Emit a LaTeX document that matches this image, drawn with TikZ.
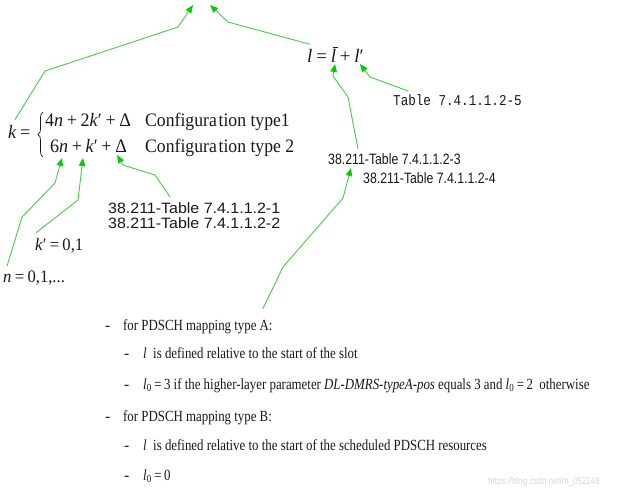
\documentclass[tikz,border=0pt]{standalone}
\usepackage{fontspec}
\setmainfont{Liberation Serif}
\newfontfamily\arialf{Liberation Sans}
\newfontfamily\monof{Liberation Mono}
\usepackage{graphicx}
\usetikzlibrary{arrows.meta,decorations.pathreplacing}
\newcommand\hsq[2]{\scalebox{#1}[1]{#2}}
\newcommand\fx{\fontsize{19}{19}\selectfont}
\newcommand\fb{\fontsize{15.5}{15.5}\selectfont}
\newcommand\gp{\kern0.2em}
\newcommand\lbar{\makebox[0pt][l]{\kern0.12em\raisebox{0.72em}{\rule{0.28em}{0.045em}}}\textit{l}}
\definecolor{grn}{RGB}{70,205,70}
\definecolor{grnh}{RGB}{10,200,10}
\definecolor{ink}{RGB}{25,25,25}
\definecolor{wm}{RGB}{215,215,215}
\tikzset{
  conn/.style={draw=grn, line width=0.9pt, line join=round,
    -{Triangle[length=8pt,width=6.5pt,fill=grnh,color=grnh]}},
  lbl/.style={inner sep=0pt, anchor=base west, text=ink},
  bracestyle/.style={draw=ink, line width=0.7pt,
    decorate, decoration={brace, amplitude=5pt}},
}
\begin{document}
\begin{tikzpicture}[x=1pt,y=-1pt]
\fill[white] (0,0) rectangle (641,493);
\useasboundingbox (0,0) rectangle (641,493);

% ---- k formula
\node[lbl] (kk) at (8,138) {\fx\hsq{0.95}{\textit{k}\gp=}};
\coordinate (brb) at (43,157);
\coordinate (brt) at (43,112);
\draw[bracestyle] (brb) -- (brt);
\node[lbl] (r1a) at (45,126) {\fx\hsq{0.95}{4\textit{n}\gp+\gp2\textit{k}′\gp+\gp Δ}};
\node[lbl] (r2a) at (50,152) {\fx\hsq{0.95}{6\textit{n}\gp+\gp\textit{k}′\gp+\gp Δ}};
\node[lbl] (r1b) at (145,126) {\fx\hsq{0.93}{Configura\kern0.1em tion type1}};
\node[lbl] (r2b) at (145,152) {\fx\hsq{0.93}{Configura\kern0.1em tion type 2}};

% ---- l formula
\node[lbl] (lf) at (307,62) {\fx\hsq{1.0}{\textit{l}\gp=\gp\lbar\gp+\gp\textit{l}′}};

% ---- references
\node[lbl] (t5) at (393,105) {\fontsize{15}{15}\monof\hsq{0.84}{Table 7.4.1.1.2-5}};
\node[lbl] (t3) at (328,164) {\fontsize{15}{15}\arialf\hsq{0.82}{38.211-Table 7.4.1.1.2-3}};
\node[lbl] (t4) at (363,183) {\fontsize{15}{15}\arialf\hsq{0.82}{38.211-Table 7.4.1.1.2-4}};
\node[lbl] (t12a) at (108,213) {\fontsize{15}{15}\arialf\hsq{1.065}{38.211-Table 7.4.1.1.2-1}};
\node[lbl] (t12b) at (108,228) {\fontsize{15}{15}\arialf\hsq{1.065}{38.211-Table 7.4.1.1.2-2}};
\node[lbl] (kp) at (35,250) {\fontsize{17.5}{17.5}\selectfont\hsq{0.95}{\textit{k}′\gp=\gp0,1}};
\node[lbl] (nl) at (3,282) {\fontsize{17.5}{17.5}\selectfont\hsq{0.95}{\textit{n}\gp=\gp0,1,...}};

% ---- bullet list
\node[lbl] (d1) at (105,330) {\fb -};
\node[lbl] (L1) at (123,330) {\fb\hsq{0.83}{for PDSCH mapping type A:}};
\node[lbl] (d2) at (124,358) {\fb -};
\node[lbl] (L2) at (143,358) {\fb\hsq{0.83}{\textit{l}\ \ is defined relative to the start of the slot}};
\node[lbl] (d3) at (124,389) {\fb -};
\node[lbl] (L3) at (143,389) {\fb\hsq{0.83}{\textit{l}\textsubscript{0}\gp=\gp3 if the higher-layer parameter \textit{DL-DMRS-typeA-pos} equals 3 and \textit{l}\textsubscript{0}\gp=\gp2\ \ otherwise}};
\node[lbl] (d4) at (105,421) {\fb -};
\node[lbl] (L4) at (123,421) {\fb\hsq{0.83}{for PDSCH mapping type B:}};
\node[lbl] (d5) at (124,450) {\fb -};
\node[lbl] (L5) at (143,450) {\fb\hsq{0.83}{\textit{l}\ \ is defined relative to the start of the scheduled PDSCH resources}};
\node[lbl] (d6) at (124,480) {\fb -};
\node[lbl] (L6) at (143,480) {\fb\hsq{0.83}{\textit{l}\textsubscript{0}\gp=\gp0}};

\node[inner sep=0pt, anchor=base west, text=wm] (wmk) at (488,484)
  {\fontsize{10}{10}\arialf\hsq{0.8}{https://blog.csdn.net/m\_052148}};

% ---- arrow targets
\coordinate (topL) at (193,5);
\coordinate (topR) at (210,5);
\coordinate (tlp) at (360,64);
\coordinate (tlbar) at (335,64);
\coordinate (tt3) at (351,168);
\coordinate (tdel) at (117,155);
\coordinate (tkp) at (83,158);
\coordinate (tn) at (62,158);

% ---- connectors
\draw[conn] ([xshift=7pt,yshift=5pt]kk.north west) -- (45,71) -- (178,27) -- (topL);
\draw[conn] ([xshift=3pt,yshift=3pt]lf.north west) -- (228,22) -- (topR);
\draw[conn] ([xshift=15pt,yshift=3pt]t5.north west) -- (370,77) -- (tlp);
\draw[conn] ([xshift=30pt,yshift=4pt]t3.north west) -- (348,97) -- (333,76) -- (tlbar);
\draw[conn] ([xshift=-10pt,yshift=10pt]L1.north east) -- (283,267) -- (343,198) -- (tt3);
\draw[conn] ([xshift=62pt,yshift=5pt]t12a.north west) -- (155,175) -- (123,165) -- (tdel);
\draw[conn] ([xshift=1pt,yshift=5pt]kp.north west) -- (78,200) -- (tkp);
\draw[conn] ([xshift=4pt,yshift=4pt]nl.north west) -- (22,217) -- (55,183) -- (tn);
\end{tikzpicture}
\end{document}
